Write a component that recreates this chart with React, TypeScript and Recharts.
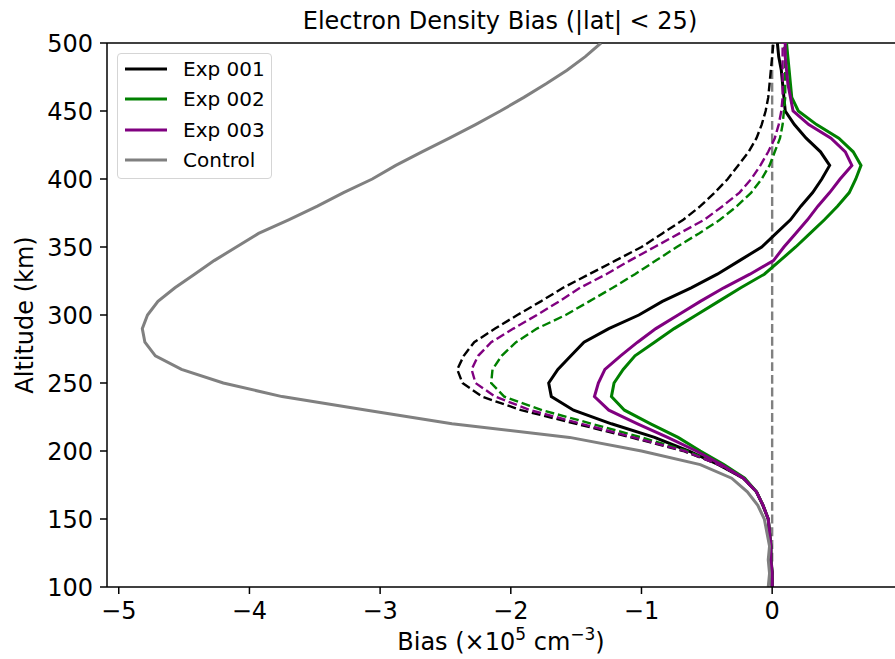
import React from 'react';
import { LineChart, Line, XAxis, YAxis, ReferenceLine, Legend, Label } from 'recharts';

const altitudes = [100, 110, 120, 130, 140, 150, 160, 170, 180, 190, 200, 210, 220, 230, 240, 250, 260, 270, 280, 290, 300, 310, 320, 330, 340, 350, 360, 370, 380, 390, 400, 410, 420, 430, 440, 450, 460, 470, 480, 490, 500];

const control = [-0.03, -0.02, -0.03, -0.02, -0.04, -0.06, -0.11, -0.19, -0.31, -0.55, -1.0, -1.55, -2.45, -3.1, -3.75, -4.2, -4.52, -4.72, -4.8, -4.82, -4.78, -4.7, -4.57, -4.42, -4.27, -4.1, -3.93, -3.7, -3.48, -3.28, -3.06, -2.88, -2.68, -2.47, -2.27, -2.08, -1.9, -1.73, -1.57, -1.43, -1.31];

const exp001 = [0.0, 0.0, -0.01, -0.01, -0.02, -0.03, -0.07, -0.12, -0.22, -0.41, -0.64, -0.9, -1.23, -1.52, -1.69, -1.71, -1.64, -1.54, -1.44, -1.25, -1.02, -0.84, -0.62, -0.42, -0.25, -0.08, 0.03, 0.14, 0.22, 0.31, 0.38, 0.44, 0.37, 0.26, 0.17, 0.1, 0.09, 0.08, 0.07, 0.05, 0.04];

const exp002 = [0.0, 0.0, -0.01, -0.01, -0.02, -0.03, -0.07, -0.12, -0.21, -0.37, -0.55, -0.72, -0.93, -1.13, -1.23, -1.21, -1.14, -1.05, -0.9, -0.75, -0.58, -0.41, -0.24, -0.06, 0.06, 0.18, 0.29, 0.4, 0.5, 0.59, 0.64, 0.68, 0.62, 0.51, 0.34, 0.2, 0.15, 0.14, 0.13, 0.12, 0.11];

const exp003 = [0.0, 0.0, -0.01, -0.01, -0.02, -0.03, -0.07, -0.12, -0.22, -0.39, -0.58, -0.8, -1.03, -1.25, -1.36, -1.33, -1.28, -1.16, -1.03, -0.89, -0.72, -0.55, -0.37, -0.17, 0.01, 0.09, 0.18, 0.27, 0.35, 0.44, 0.52, 0.61, 0.56, 0.45, 0.28, 0.16, 0.14, 0.12, 0.11, 0.1, 0.1];

const exp001Dashed = [0.0, 0.0, -0.01, -0.01, -0.02, -0.03, -0.07, -0.12, -0.22, -0.41, -0.68, -1.08, -1.5, -1.92, -2.22, -2.37, -2.41, -2.36, -2.28, -2.12, -1.95, -1.77, -1.6, -1.4, -1.2, -1.0, -0.84, -0.68, -0.55, -0.44, -0.34, -0.26, -0.18, -0.12, -0.08, -0.05, -0.03, -0.02, -0.01, 0.0, 0.01];

const exp002Dashed = [0.0, 0.0, -0.01, -0.01, -0.02, -0.03, -0.07, -0.12, -0.22, -0.4, -0.65, -1.0, -1.38, -1.76, -2.05, -2.15, -2.14, -2.07, -1.96, -1.8, -1.58, -1.4, -1.22, -1.05, -0.89, -0.73, -0.56, -0.4, -0.27, -0.16, -0.08, -0.02, 0.02, 0.06, 0.08, 0.09, 0.1, 0.1, 0.1, 0.1, 0.09];

const exp003Dashed = [0.0, 0.0, -0.01, -0.01, -0.02, -0.03, -0.07, -0.12, -0.22, -0.41, -0.67, -1.06, -1.46, -1.85, -2.12, -2.27, -2.3, -2.25, -2.15, -1.98, -1.8, -1.63, -1.47, -1.27, -1.09, -0.9, -0.71, -0.52, -0.38, -0.25, -0.16, -0.09, -0.03, 0.02, 0.05, 0.07, 0.08, 0.08, 0.08, 0.08, 0.08];

const xTicks = [-5, -4, -3, -2, -1, 0];
const yTicks = [100, 150, 200, 250, 300, 350, 400, 450, 500];
const xDomain = [-5.09, 0.94];
const yDomain = [100, 500];

const legendLabels = ['Exp 001', 'Exp 002', 'Exp 003', 'Control'];
const legendColors = ['#000000', '#008000', '#800080', '#808080'];

const rows = altitudes.map((alt, i) => ({
  alt,
  control: control[i],
  exp001: exp001[i],
  exp002: exp002[i],
  exp003: exp003[i],
  exp001Dashed: exp001Dashed[i],
  exp002Dashed: exp002Dashed[i],
  exp003Dashed: exp003Dashed[i],
}));

const FONT = '"DejaVu Sans", sans-serif';
const DASH = '8.9 3.8';

const fmt = (v: number) => (v < 0 ? '\u2212' + Math.abs(v) : String(v));

function LegendBox() {
  return (
    <div
      style={{
        width: 155,
        height: 126,
        boxSizing: 'border-box',
        border: '1px solid #d5d5d5',
        borderRadius: 4,
        background: 'rgba(255,255,255,0.8)',
        position: 'relative',
      }}
    >
      {legendLabels.map((lab, i) => (
        <div
          key={lab}
          style={{
            position: 'absolute',
            left: 7,
            top: 3 + i * 30.3,
            height: 24,
            display: 'flex',
            alignItems: 'center',
            whiteSpace: 'nowrap',
          }}
        >
          <svg width={42} height={6} style={{ display: 'block' }}>
            <line x1={0} y1={3} x2={42} y2={3} stroke={legendColors[i]} strokeWidth={3} />
          </svg>
          <span style={{ marginLeft: 16, fontSize: 20, fontFamily: FONT, color: '#000', lineHeight: '24px' }}>{lab}</span>
        </div>
      ))}
    </div>
  );
}

function XLabel(props: any) {
  const vb = props.viewBox || { x: 107, y: 587, width: 788, height: 72 };
  const cx = vb.x + vb.width / 2;
  return (
    <text x={cx} y={vb.y + 63} textAnchor="middle" fontSize={24} fontFamily={FONT} fill="#000">
      Bias (×10
      <tspan dy={-10} fontSize={17}>5</tspan>
      <tspan dy={10}> cm</tspan>
      <tspan dy={-10} fontSize={17}>{'\u22123'}</tspan>
      <tspan dy={10}>)</tspan>
    </text>
  );
}

function YLabel(props: any) {
  const vb = props.viewBox || { x: 0, y: 43, width: 107, height: 544 };
  const cy = vb.y + vb.height / 2;
  const x = 33;
  return (
    <text x={x} y={cy} transform={`rotate(-90, ${x}, ${cy})`} textAnchor="middle" fontSize={24} fontFamily={FONT} fill="#000">
      Altitude (km)
    </text>
  );
}

export default function App() {
  return (
    <div style={{ position: 'absolute', left: 0, top: 0, width: 895, height: 659, background: '#fff' }}>
      <LineChart
        width={895}
        height={659}
        data={rows}
        layout="vertical"
        margin={{ top: 43, right: 0, bottom: 0, left: 0 }}
      >
        <XAxis
          type="number"
          domain={xDomain}
          ticks={xTicks}
          allowDataOverflow
          height={72}
          tickFormatter={fmt}
          tick={{ fill: '#000', fontSize: 24, fontFamily: FONT }}
          tickSize={7}
          tickMargin={8}
          axisLine={{ stroke: '#000', strokeWidth: 1.5 }}
          tickLine={{ stroke: '#000', strokeWidth: 1.5 }}
        >
          <Label content={XLabel} />
        </XAxis>
        <YAxis
          type="number"
          dataKey="alt"
          domain={yDomain}
          ticks={yTicks}
          allowDataOverflow
          reversed
          width={107}
          tick={{ fill: '#000', fontSize: 24, fontFamily: FONT }}
          tickSize={7}
          tickMargin={7}
          axisLine={{ stroke: '#000', strokeWidth: 1.5 }}
          tickLine={{ stroke: '#000', strokeWidth: 1.5 }}
        >
          <Label content={YLabel} />
        </YAxis>
        <ReferenceLine y={500} stroke="#000" strokeWidth={1.5} />
        <ReferenceLine x={0} stroke="#808080" strokeWidth={2.4} strokeDasharray={DASH} />
        <Line dataKey="exp001" stroke="#000000" strokeWidth={3} dot={false} isAnimationActive={false} />
        <Line dataKey="exp001Dashed" stroke="#000000" strokeWidth={2.4} strokeDasharray={DASH} dot={false} isAnimationActive={false} />
        <Line dataKey="exp002" stroke="#008000" strokeWidth={3} dot={false} isAnimationActive={false} />
        <Line dataKey="exp002Dashed" stroke="#008000" strokeWidth={2.4} strokeDasharray={DASH} dot={false} isAnimationActive={false} />
        <Line dataKey="exp003" stroke="#800080" strokeWidth={3} dot={false} isAnimationActive={false} />
        <Line dataKey="exp003Dashed" stroke="#800080" strokeWidth={2.4} strokeDasharray={DASH} dot={false} isAnimationActive={false} />
        <Line dataKey="control" stroke="#808080" strokeWidth={3} dot={false} isAnimationActive={false} />
        <Legend
          layout="vertical"
          align="center"
          verticalAlign="middle"
          content={() => <LegendBox />}
          wrapperStyle={{ left: 117, top: 53, width: 155, height: 126, position: 'absolute' }}
        />
        <text x={500} y={29} textAnchor="middle" fontSize={24} fontFamily={FONT} fill="#000">
          Electron Density Bias (|lat| &lt; 25)
        </text>
      </LineChart>
    </div>
  );
}
